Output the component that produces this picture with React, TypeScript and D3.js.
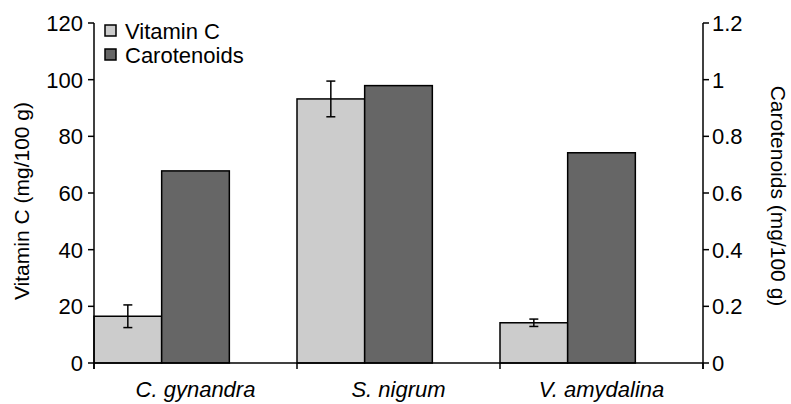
import React from 'react'
import * as d3 from 'd3'

const categories = ['C. gynandra', 'S. nigrum', 'V. amydalina']
const vitaminC = [16.5, 93.2, 14.2]
const vitaminCErr = [4.0, 6.3, 1.3]
const carotenoids = [0.678, 0.979, 0.742]
const leftTicks = [0, 20, 40, 60, 80, 100, 120]
const rightTicks = [0, 0.2, 0.4, 0.6, 0.8, 1, 1.2]

const FONT = '"Liberation Sans", Arial, sans-serif'

const App = () => {
    const width = 791
    const height = 404
    const left = 94
    const right = 703
    const top = 23
    const bottom = 363

    const x = d3.scaleBand().domain(categories).range([left, right]).padding(0)
    const yL = d3.scaleLinear().domain([0, 120]).range([bottom, top])
    const yR = d3.scaleLinear().domain([0, 1.2]).range([bottom, top])
    const bw = x.bandwidth() / 3

    const bars = categories.map((c, i) => {
        const x0 = x(c) as number
        const vTop = yL(vitaminC[i])
        const cTop = yR(carotenoids[i])
        const cx = x0 + bw / 2
        return (
            <g key={c}>
                <rect x={x0} y={vTop} width={bw} height={bottom - vTop}
                    fill="#cccccc" stroke="#000" strokeWidth={1.5} />
                <rect x={x0 + bw} y={cTop} width={bw} height={bottom - cTop}
                    fill="#666666" stroke="#000" strokeWidth={1.5} />
                <g stroke="#000" strokeWidth={1.5}>
                    <line x1={cx} x2={cx} y1={yL(vitaminC[i] + vitaminCErr[i])} y2={yL(vitaminC[i] - vitaminCErr[i])} />
                    <line x1={cx - 4.5} x2={cx + 4.5} y1={yL(vitaminC[i] + vitaminCErr[i])} y2={yL(vitaminC[i] + vitaminCErr[i])} />
                    <line x1={cx - 4.5} x2={cx + 4.5} y1={yL(vitaminC[i] - vitaminCErr[i])} y2={yL(vitaminC[i] - vitaminCErr[i])} />
                </g>
                <text x={x0 + x.bandwidth() / 2} y={397} textAnchor="middle"
                    fontStyle="italic" fontSize={22}>{c}</text>
            </g>
        )
    })

    const boundaries = [...categories.map(c => x(c) as number), right]

    return (
        <svg width={width} height={height} fontFamily={FONT}
            style={{ position: 'absolute', left: 0, top: 0, background: '#fff' }}>
            {bars}
            {/* x axis */}
            <line x1={left} x2={right} y1={bottom} y2={bottom} stroke="#000" strokeWidth={1.5} />
            {boundaries.map(b => (
                <line key={`xt${b}`} x1={b} x2={b} y1={bottom} y2={bottom + 6} stroke="#000" strokeWidth={1.5} />
            ))}
            {/* left axis */}
            <line x1={left} x2={left} y1={top} y2={bottom + 6} stroke="#000" strokeWidth={1.5} />
            {leftTicks.map(t => (
                <g key={`l${t}`}>
                    <line x1={left - 6} x2={left} y1={yL(t)} y2={yL(t)} stroke="#000" strokeWidth={1.5} />
                    <text x={left - 11} y={yL(t)} dy="0.36em" textAnchor="end" fontSize={22}>{t}</text>
                </g>
            ))}
            {/* right axis */}
            <line x1={right} x2={right} y1={top} y2={bottom + 6} stroke="#000" strokeWidth={1.5} />
            {rightTicks.map(t => (
                <g key={`r${t}`}>
                    <line x1={right} x2={right + 6} y1={yR(t)} y2={yR(t)} stroke="#000" strokeWidth={1.5} />
                    <text x={right + 9} y={yR(t)} dy="0.36em" textAnchor="start" fontSize={22}>{t}</text>
                </g>
            ))}
            {/* axis titles */}
            <text transform="translate(29,201) rotate(-90)" textAnchor="middle" fontSize={21}>Vitamin C (mg/100 g)</text>
            <text transform="translate(771,196) rotate(90)" textAnchor="middle" fontSize={21}>Carotenoids (mg/100 g)</text>
            {/* legend */}
            <rect x={105} y={25} width={11} height={11} fill="#cccccc" stroke="#000" strokeWidth={1.5} />
            <text x={125} y={31} dy="0.36em" fontSize={22}>Vitamin C</text>
            <rect x={105} y={49} width={11} height={11} fill="#666666" stroke="#000" strokeWidth={1.5} />
            <text x={125} y={55} dy="0.36em" fontSize={22}>Carotenoids</text>
        </svg>
    )
}

export default App
